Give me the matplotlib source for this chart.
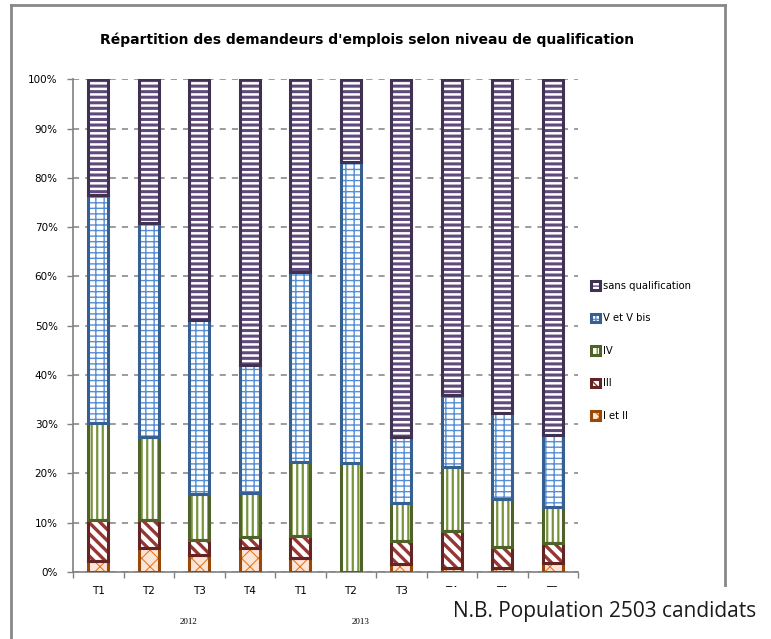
import matplotlib
matplotlib.use("Agg")
import matplotlib.pyplot as plt
from matplotlib.lines import Line2D
from matplotlib.patches import Rectangle
from matplotlib.legend_handler import HandlerTuple

# data (percent of job seekers per quarter)
quarters = ["T1", "T2", "T3", "T4", "T1", "T2", "T3", "T4", "T1", "T2"]
years = ["2012", "2013"]
i_et_ii = [2.3, 4.8, 3.4, 4.8, 2.8, 0.0, 1.6, 0.9, 0.9, 1.9]
niveau_iii = [8.2, 5.7, 3.1, 2.4, 4.6, 0.0, 4.6, 7.4, 4.2, 4.0]
niveau_iv = [19.8, 16.8, 9.3, 8.9, 14.9, 22.1, 7.9, 13.1, 9.7, 7.2]
v_et_vbis = [46.2, 43.5, 35.3, 25.9, 38.6, 61.2, 13.3, 14.5, 17.5, 14.7]
sans_qualif = [23.5, 29.2, 48.9, 58.0, 39.1, 16.7, 72.6, 64.1, 67.7, 72.2]

series = [
    ("I et II", i_et_ii, "#FCE4D6", "#E46C0A", "#984807", "xx", 0.7),
    ("III", niveau_iii, "white", "#953735", "#632523", "\\\\\\", 2.4),
    ("IV", niveau_iv, "white", "#77933C", "#4F6228", "|||", 1.6),
    ("V et V bis", v_et_vbis, "white", "#558ED5", "#376092", "++-", 1.0),
    ("sans qualification", sans_qualif, "white", "#604A7B", "#3F3151", "---", 2.2),
]

W, H = 771, 639
fig = plt.figure(figsize=(W / 100, H / 100), dpi=100)
ax = fig.add_axes([73 / W, 1 - 572 / H, 505 / W, (572 - 79.3) / H])

x = list(range(len(quarters)))
bottom = [0.0] * len(x)
handles = []
for label, vals, face, hcol, ecol, hatch, hlw in series:
    lw = [2.2 if v > 0 else 0 for v in vals]
    with plt.rc_context({"hatch.linewidth": hlw}):
        b1 = ax.bar(x, vals, 0.39, bottom=bottom, color=face, edgecolor=hcol,
                    linewidth=0, hatch=hatch, zorder=2)
    b2 = ax.bar(x, vals, 0.39, bottom=bottom, fill=False, edgecolor=ecol,
                linewidth=lw, zorder=3)
    handles.append(((b1[0], b2[0]), label))
    bottom = [b + v for b, v in zip(bottom, vals)]

ax.set_xlim(-0.5, len(x) - 0.5)
ax.set_ylim(0, 100)
ax.set_yticks(range(0, 101, 10))
ax.set_yticklabels([f"{v}%" for v in range(0, 101, 10)], fontsize=7.5)
ax.yaxis.grid(True, linestyle=(0, (4, 4)), color="#808080", linewidth=1.1, zorder=1)
ax.set_axisbelow(True)

ax.set_xticks(x)
ax.set_xticklabels(quarters, fontsize=7.5)
ax.set_xticks([i - 0.5 for i in range(len(x) + 1)], minor=True)
ax.tick_params(axis="x", which="major", length=0, pad=10)
ax.tick_params(axis="x", which="minor", length=4, color="#808080", width=1)
ax.tick_params(axis="y", length=4, color="#808080", width=1, pad=7)

for s in ["top", "right"]:
    ax.spines[s].set_visible(False)
for s in ["left", "bottom"]:
    ax.spines[s].set_color("#808080")
    ax.spines[s].set_linewidth(1.2)

# year labels under the quarters
for xpos, yr in zip([1.78, 5.19], years):
    ax.text(xpos, -10.2, yr, ha="center", va="center", fontsize=6.5,
            family="Liberation Serif")

fig.text(367 / W, 1 - 40 / H,
         "Répartition des demandeurs d'emplois selon niveau de qualification",
         ha="center", va="center", fontsize=10, fontweight="bold")

hs = [h for h, _ in reversed(handles)]
ls = [l for _, l in reversed(handles)]
ax.legend(hs, ls, handler_map={tuple: HandlerTuple(ndivide=1)},
          loc="upper left", bbox_to_anchor=(582 / W, 1 - 272 / H),
          bbox_transform=fig.transFigure, frameon=False, fontsize=7.2,
          handlelength=0.9, handleheight=0.9, handletextpad=0.3,
          labelspacing=2.25)

# chart frame
g = "#888888"
fig.add_artist(Line2D([11 / W, 11 / W], [0, 1 - 5 / H], color=g, lw=2))
fig.add_artist(Line2D([11 / W, 725 / W], [1 - 5 / H, 1 - 5 / H], color=g, lw=2))
fig.add_artist(Line2D([725 / W, 725 / W], [1 - 5 / H, 1 - 587 / H], color=g, lw=2))

# note box drawn on top of the chart bottom
fig.add_artist(Rectangle((430 / W, 0), 1 - 430 / W, 1 - 587 / H,
                         facecolor="white", edgecolor="none", zorder=5))
fig.text(605 / W, 1 - 612 / H, "N.B. Population 2503 candidats",
         ha="center", va="center", fontsize=15, family="Open Sans",
         color="#1a1a1a", zorder=6)

fig.savefig("out.png", dpi=100)
